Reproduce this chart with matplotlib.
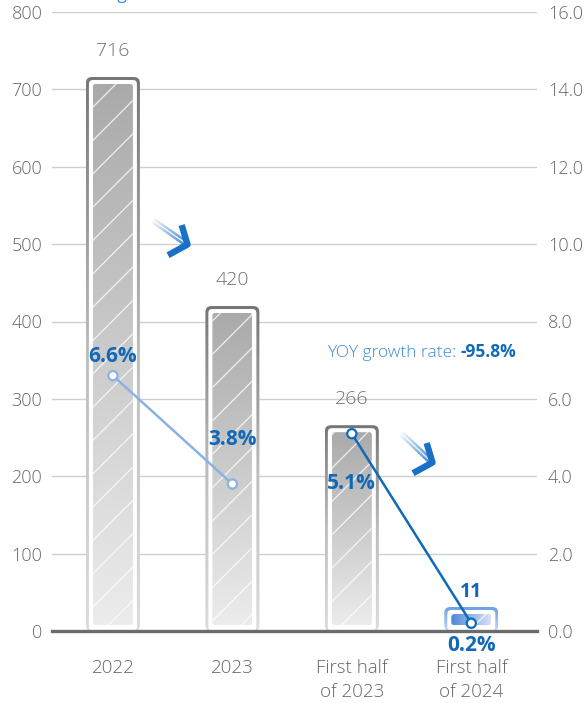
import numpy as np
import matplotlib.pyplot as plt
from matplotlib.patches import FancyBboxPatch, Rectangle
from matplotlib.collections import LineCollection
from matplotlib.colors import LinearSegmentedColormap, to_rgba
from matplotlib.markers import MarkerStyle
from matplotlib.path import Path

plt.rcParams['font.family'] = ['Open Sans', 'DejaVu Sans']
plt.rcParams['hatch.linewidth'] = 0.9

# data
categories = ['2022', '2023', 'First half\nof 2023', 'First half\nof 2024']
values = [716, 420, 266, 11]
growth = [6.6, 3.8, 5.1, 0.2]
growth_labels = ['6.6%', '3.8%', '5.1%', '0.2%']
left_ticks = np.arange(0, 801, 100)
right_ticks = np.arange(0, 16.1, 2.0)
yoy_top = 'YOY growth rate: -41.3%'
yoy_label = 'YOY growth rate: '
yoy_value = '-95.8%'
# decorative down arrows: (tail x, tail y, tip x, tip y) on the left axis scale
arrows = [(0.33, 531, 0.62, 500), (2.41, 256, 2.67, 218)]

W, H = 584, 703
fig = plt.figure(figsize=(W / 100, H / 100), dpi=100)
ax = fig.add_axes([52 / W, 1 - 631 / H, 485 / W, 619 / H])
ax2 = ax.twinx()

xlim = (-0.51, 3.55)
ylim = (0, 800)
dx = (xlim[1] - xlim[0]) / 485   # data units per pixel
dy = (ylim[1] - ylim[0]) / 619
asp = dy / dx

grad = np.linspace(0, 1, 256).reshape(-1, 1)
grad_h = np.linspace(0, 1, 256).reshape(1, -1)
cm_frame = LinearSegmentedColormap.from_list('gf', ['#dcdcdc', '#bdbdbd', '#767676'])
cm_fill = LinearSegmentedColormap.from_list('gi', ['#ececec', '#aaaaaa'])
cm_bframe = LinearSegmentedColormap.from_list('bf', ['#c4d7f1', '#6c9fe0'])
cm_bfill = LinearSegmentedColormap.from_list('bi', ['#5287d6', '#d4e2f6'])


def rbox(x0, y0, w, h, r_px, **kw):
    p = FancyBboxPatch((x0, y0), w, h,
                       boxstyle=f'round,pad=0,rounding_size={r_px * dx}',
                       mutation_aspect=asp, **kw)
    ax.add_patch(p)
    return p


def grad_fill(patch, x0, x1, y0, y1, cmap, img, z):
    im = ax.imshow(img, cmap=cmap, extent=[x0, x1, y0, y1], origin='lower',
                   aspect='auto', interpolation='bilinear', zorder=z)
    im.set_clip_path(patch)


x = np.arange(len(categories))
for i, (c, v) in enumerate(zip(x, values)):
    top = max(v, 24 * dy)
    blue = i == len(values) - 1
    # outer frame
    ox0, ow = c - 27 * dx, 54 * dx
    outer = rbox(ox0, 0, ow, top, 6, facecolor='none', edgecolor='none', zorder=2)
    grad_fill(outer, ox0, ox0 + ow, 0, top, cm_bframe if blue else cm_frame, grad, 2)
    # white gap
    rbox(ox0 + 3 * dx, 0, ow - 6 * dx, top - 3 * dy, 4,
         facecolor='white', edgecolor='none', zorder=2.5)
    # inner fill
    ix0, iw = c - 20 * dx, 40 * dx
    iy0, iy1 = 6 * dy, top - 7 * dy
    inner = rbox(ix0, iy0, iw, iy1 - iy0, 2.5, facecolor='none', edgecolor='none', zorder=3)
    if blue:
        grad_fill(inner, ix0, ix0 + iw, iy0, iy1, cm_bfill, grad_h, 3)
    else:
        grad_fill(inner, ix0, ix0 + iw, iy0, iy1, cm_fill, grad, 3)
    hatch = Rectangle((ix0, iy0), iw, iy1 - iy0, facecolor='none', edgecolor='white',
                      lw=0, hatch='/', alpha=0.8, zorder=3.2)
    ax.add_patch(hatch)
    hatch.set_clip_path(inner)
    # value label
    ax.annotate(f'{v}', (c, top), xytext=(0, 11 if blue else 19), textcoords='offset points',
                ha='center', va='center', fontsize=14,
                color='#0f6ab8' if blue else '#707070',
                fontweight='bold' if blue else 'light')

# baseline and grid
ax.axhline(0, color='#6b6b6b', lw=2.4, zorder=6, clip_on=False)
ax.yaxis.grid(True, color='#cfcfcf', lw=1)
ax.set_axisbelow(True)

# arrows
head = MarkerStyle(Path([(-0.3, 1.0), (0, 0), (-1.0, -0.55)],
                        [Path.MOVETO, Path.LINETO, Path.LINETO]))
for tx, ty, hx, hy in arrows:
    n = 24
    t = np.linspace(0, 1, n + 1)
    px = tx + (hx - tx) * t
    py = ty + (hy - ty) * t
    segs = [[(px[k], py[k]), (px[k + 1], py[k + 1])] for k in range(n)]
    base = np.array(to_rgba('#2f7fd0'))
    cols = np.tile(base, (n, 1))
    cols[:, 3] = np.linspace(0.05, 1, n)
    ax.add_collection(LineCollection(segs, colors=cols, linewidths=4.4, zorder=4,
                                     capstyle='butt'))
    ax.add_collection(LineCollection(segs, colors='white', linewidths=0.9, zorder=4.1))
    ax.plot([hx], [hy], marker=head, ms=28, mew=4.6, mec='#1a70c6', mfc='none',
            zorder=4.2)

# growth line on right axis
ax2.plot(x[:2], growth[:2], color='#8ab2e2', lw=1.8, zorder=3)
ax2.plot(x[2:], growth[2:], color='#0f6ab8', lw=1.8, zorder=3)
ax2.scatter(x, growth, s=44, facecolor='white',
            edgecolor=['#8ab2e2', '#8ab2e2', '#0f6ab8', '#0f6ab8'], lw=1.6, zorder=4)
offsets = [14, 32, -36, -16]
for xi, g, lab, off in zip(x, growth, growth_labels, offsets):
    ax2.annotate(lab, (xi, g), xytext=(0, off), textcoords='offset points',
                 ha='center', va='center', fontsize=15, fontweight='bold', color='#1168b8')

# YOY notes
fig.text(80 / W, 1 + 1 / H, yoy_top, fontsize=12.5, color='#3d8bd6', va='baseline')
t1 = ax.text(0.567, 0.449, yoy_label, transform=ax.transAxes, fontsize=12.5,
             color='#3d8bd6', va='center', fontweight='light')
ax.annotate(yoy_value, xy=(1, 0), xycoords=t1, va='bottom', fontsize=12.5,
            fontweight='bold', color='#0f6ab8')

# axes styling
ax.set_xlim(xlim)
ax.set_ylim(ylim)
ax2.set_ylim(0, 16)
ax.set_yticks(left_ticks)
ax2.set_yticks(right_ticks, [f'{t:.1f}' for t in right_ticks])
ax.set_xticks(x, categories)
for a in (ax, ax2):
    for s in a.spines.values():
        s.set_visible(False)
ax.tick_params(axis='y', length=0, pad=7, labelsize=13, labelcolor='#666666')
ax2.tick_params(axis='y', length=0, pad=8, labelsize=13, labelcolor='#666666')
ax.tick_params(axis='x', length=0, pad=20, labelsize=13.5, labelcolor='#666666')
for lbl in ax.get_xticklabels() + ax.get_yticklabels() + ax2.get_yticklabels():
    lbl.set_fontweight('light')
for lbl in ax.get_xticklabels():
    lbl.set_linespacing(1.45)

fig.savefig('out.png', dpi=100)
